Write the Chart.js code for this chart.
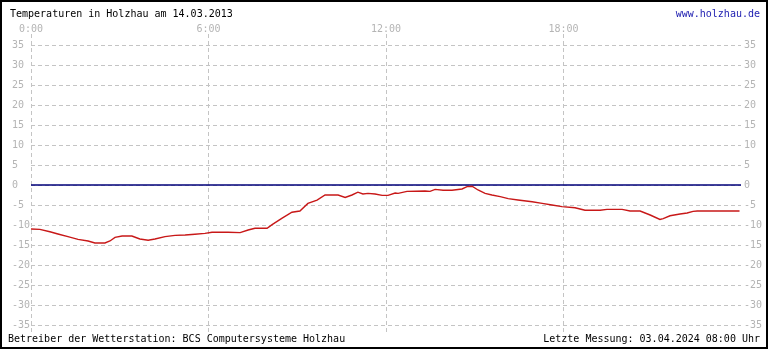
<!DOCTYPE html>
<html>
<head>
<meta charset="utf-8">
<script src="https://cdn.jsdelivr.net/npm/chart.js@4/dist/chart.umd.min.js"></script>
<style>
  html, body { margin: 0; padding: 0; background: #fff; }
  #wrap { position: relative; width: 770px; height: 350px; }
  #frame { position: absolute; left: 0; top: 0; width: 768px; height: 349px; box-sizing: border-box; border: 2px solid #000; pointer-events: none; }
  .txt { position: absolute; font-family: "DejaVu Sans Mono", monospace; font-size: 10px; line-height: 12px; white-space: pre; }
  canvas { position: absolute; left: 0; top: 0; }
</style>
</head>
<body>
<div id="wrap">
  <canvas id="c" width="770" height="350"></canvas>
  <div class="txt" style="left:10px; top:8px; color:#000;">Temperaturen in Holzhau am 14.03.2013</div>
  <div class="txt" style="right:10px; top:8px; color:#1c1cb0;">www.holzhau.de</div>
  <div class="txt" style="left:8px; top:333px; color:#000;">Betreiber der Wetterstation: BCS Computersysteme Holzhau</div>
  <div class="txt" style="right:10px; top:333px; color:#000;">Letzte Messung: 03.04.2024 08:00 Uhr</div>
  <div id="frame"></div>
</div>
<script>
// Hours of the day
const hours = [0.00,0.30,0.64,0.91,1.25,1.59,1.93,2.16,2.50,2.67,2.84,3.08,3.41,3.68,3.96,4.19,4.53,4.87,5.21,5.54,5.88,6.12,6.66,7.07,7.34,7.57,7.98,8.15,8.49,8.82,9.09,9.36,9.67,9.94,10.38,10.62,10.85,11.05,11.22,11.39,11.63,11.87,12.07,12.31,12.41,12.71,13.32,13.49,13.66,13.93,14.23,14.57,14.74,14.91,15.11,15.35,15.58,15.86,16.13,16.46,16.94,17.28,17.61,17.95,18.39,18.73,19.24,19.47,19.98,20.25,20.59,20.93,21.26,21.37,21.60,21.94,22.18,22.38,22.52,23.95];
// Temperatures in °C
const temps = [-11.0,-11.1,-11.7,-12.25,-12.9,-13.6,-14.0,-14.5,-14.5,-14.0,-13.1,-12.75,-12.75,-13.5,-13.8,-13.5,-12.9,-12.6,-12.5,-12.3,-12.1,-11.8,-11.8,-11.9,-11.25,-10.8,-10.8,-9.9,-8.3,-6.8,-6.5,-4.6,-3.8,-2.5,-2.5,-3.1,-2.5,-1.8,-2.25,-2.1,-2.25,-2.6,-2.6,-2.0,-2.1,-1.6,-1.5,-1.6,-1.1,-1.3,-1.3,-1.0,-0.4,-0.3,-1.25,-2.1,-2.5,-2.9,-3.4,-3.75,-4.2,-4.6,-5.0,-5.4,-5.7,-6.3,-6.3,-6.1,-6.1,-6.5,-6.5,-7.5,-8.6,-8.4,-7.7,-7.25,-7.0,-6.6,-6.5,-6.5];
// Axis ticks
const xTicks = [0, 6, 12, 18];
const xTickLabels = ["0:00", "6:00", "12:00", "18:00"];
const yTicks = [-35,-30,-25,-20,-15,-10,-5,0,5,10,15,20,25,30,35];
const zeroLine = [0, 24];

const tempData = hours.map((h, i) => ({ x: h, y: temps[i] }));
const zeroData = zeroLine.map(h => ({ x: h, y: 0 }));

const tickFont = { family: "DejaVu Sans Mono", size: 10 };
const tickColor = "#b4b4b4";
const gridColor = "#c4c4c4";

new Chart(document.getElementById("c"), {
  type: "line",
  data: {
    datasets: [
      { data: tempData, borderColor: "#c81818", borderWidth: 1.4, pointRadius: 0, tension: 0, fill: false, order: 1 },
      { data: zeroData, borderColor: "#00007a", borderWidth: 1.4, pointRadius: 0, tension: 0, fill: false, order: 2 }
    ]
  },
  options: {
    responsive: false,
    animation: false,
    events: [],
    layout: { padding: { left: 12, right: 0, top: 0, bottom: 15 } },
    plugins: { legend: { display: false }, tooltip: { enabled: false }, title: { display: false } },
    scales: {
      x: {
        type: "linear",
        position: "top",
        min: 0, max: 24,
        afterBuildTicks: s => { s.ticks = xTicks.map(v => ({ value: v })); },
        afterFit: s => { s.height = 34; },
        ticks: {
          font: tickFont, color: tickColor, padding: -1, maxRotation: 0,
          callback: v => { const i = xTicks.indexOf(v); return i >= 0 ? xTickLabels[i] : ""; }
        },
        grid: { color: gridColor, lineWidth: 1, drawTicks: false, tickBorderDash: [4, 3] },
        border: { display: false, dash: [4, 3] }
      },
      y: {
        type: "linear",
        position: "left",
        min: -37.5, max: 37.75,
        afterBuildTicks: s => { s.ticks = yTicks.map(v => ({ value: v })); },
        afterFit: s => { s.width = 19; },
        ticks: { font: tickFont, color: tickColor, padding: 0, crossAlign: "far" },
        grid: { color: gridColor, lineWidth: 1, drawTicks: false },
        border: { display: false, dash: [4, 3] }
      },
      y2: {
        type: "linear",
        position: "right",
        min: -37.5, max: 37.75,
        afterBuildTicks: s => { s.ticks = yTicks.map(v => ({ value: v })); },
        afterFit: s => { s.width = 29; },
        ticks: { font: tickFont, color: tickColor, padding: 3, crossAlign: "near" },
        grid: { display: false, drawTicks: false },
        border: { display: false }
      }
    }
  },
  plugins: [{
    id: "dashGrid",
    beforeDraw(chart) {
      chart.options.scales.x.grid.borderDash = [4, 3];
    }
  }]
});
</script>
</body>
</html>
